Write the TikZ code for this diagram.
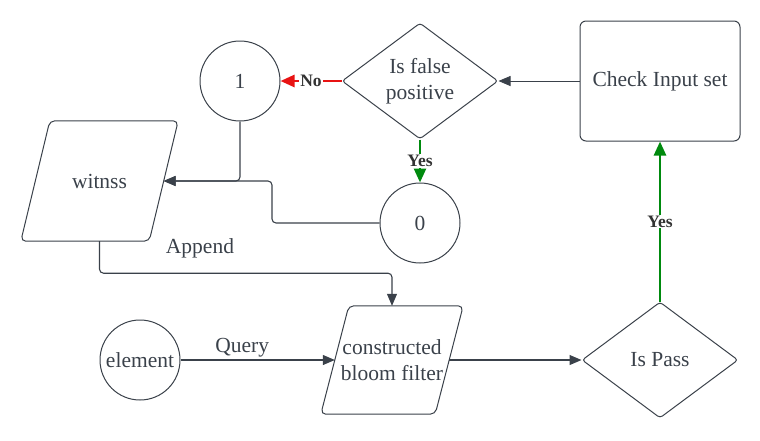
\documentclass[tikz,border=0pt]{standalone}
\usepackage{fontspec}
\setmainfont{Liberation Serif}
\usetikzlibrary{arrows.meta,shapes.geometric}
\definecolor{inkgray}{HTML}{3A414A}
\definecolor{noRed}{HTML}{E81313}
\definecolor{yesGreen}{HTML}{008A0E}
% slanted outline round a data node (#2 = half of the slant)
\newcommand\slantbox[2]{\draw[shapeline, rounded corners=5pt] ([xshift=#2]#1.north west) -- ([xshift=#2]#1.north east) -- ([xshift=-#2]#1.south east) -- ([xshift=-#2]#1.south west) -- cycle;}

\begin{document}
\begin{tikzpicture}[x=1pt,y=-1pt,
	every node/.style={text=inkgray, font=\fontsize{21.5}{26}\selectfont, align=center},
	shapeline/.style={draw=inkgray, line width=1pt},
	roundnode/.style={shapeline, circle, minimum size=80pt, inner sep=0pt},
	decision/.style={shapeline, diamond, minimum width=156pt, minimum height=116pt, inner sep=0pt, rounded corners=3pt},
	datanode/.style={rectangle, inner sep=0pt},
	flow/.style={draw=inkgray, line width=1.1pt, rounded corners=4pt, -{Triangle[length=12pt,width=10pt]}},
	yesflow/.style={draw=yesGreen, line width=2.6pt, -{Triangle[length=14pt,width=12pt]}},
	noflow/.style={draw=noRed, line width=2.6pt, -{Triangle[length=14pt,width=12pt]}},
	tag/.style={fill=white, inner sep=1pt, text=black!80, font=\fontsize{17.5}{20}\selectfont\bfseries}]
	\useasboundingbox (0,0) rectangle (760,440);
	
	% top row
	\node[roundnode] (one) at (240,81) {1};
	\node[decision] (falsepos) at (420,81) {Is false\\positive};
	\node[shapeline, rectangle, rounded corners=6pt, minimum width=160pt, minimum height=120pt] (check) at (660,81) {Check Input set};
	
	% middle row
	\node[datanode, minimum width=128pt, minimum height=120pt] (witness) at (99.5,181) {witnss};
	\slantbox{witness}{14.5pt}
	\node[roundnode] (zero) at (420,223) {0};
	\coordinate (join) at (272,181);
	
	% bottom row
	\node[roundnode] (element) at (140,360) {element};
	\node[datanode, minimum width=114pt, minimum height=108pt] (bloom) at (392,360) {constructed\\bloom filter};
	\slantbox{bloom}{14pt}
	\node[decision] (pass) at (660,360) {Is Pass};
	\node (append) at (200,248) {Append};
	
	% connectors
	\draw[noflow] (falsepos.west) -- node[tag] {No} (one.east);
	\draw[flow, line width=0.8pt] (check.west) -- (falsepos.east);
	\draw[yesflow] (falsepos.south) -- node[tag] {Yes} (zero.north);
	\draw[flow] (one.south) |- (witness.east);
	\draw[flow] (zero.west) -| (join) -- (witness.east);
	\draw[flow] (witness.south) -- ++(0,32) -| (bloom.north);
	\draw[flow] (element.east) -- node[pos=0.4, above=-1pt] {Query} (bloom.west);
	\draw[flow] (bloom.east) -- (pass.west);
	\draw[yesflow] (pass.north) -- node[tag] {Yes} (check.south);
	
\end{tikzpicture}
\end{document}
